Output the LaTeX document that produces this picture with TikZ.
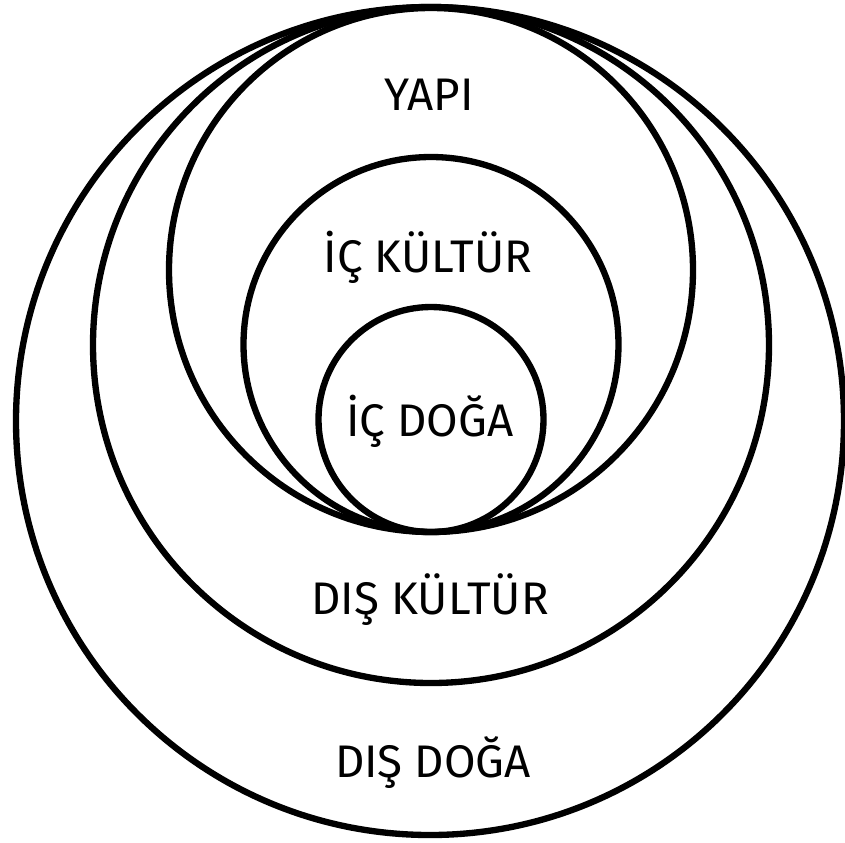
\documentclass[tikz,border=0pt]{standalone}
\usepackage{fontspec}
\newfontfamily\labelfont{Fira Sans}

\begin{document}
\begin{tikzpicture}[
  ring/.style={line width=1.8pt},
  lbl/.style={font=\labelfont\fontsize{13}{15}\selectfont}
]

\useasboundingbox (0,0) rectangle (8.45,-8.42);

% outer nature
\draw[ring] (4.30,-4.21) circle (4.14);
% outer culture
\draw[ring] (4.31,-3.45) circle (3.38);
% structure
\draw[ring] (4.31,-2.70) circle (2.62);
% inner culture
\draw[ring] (4.31,-3.445) circle (1.875);
% inner nature
\draw[ring] (4.31,-4.195) circle (1.125);

% labels
\node[lbl] (yapi) at (4.29,-0.95) {YAPI};
\node[lbl] (ickultur) at (4.28,-2.57) {İÇ KÜLTÜR};
\node[lbl] (icdoga) at (4.30,-4.21) {İÇ DOĞA};
\node[lbl] (diskultur) at (4.30,-6.00) {DIŞ KÜLTÜR};
\node[lbl] (disdoga) at (4.33,-7.63) {DIŞ DOĞA};

\end{tikzpicture}
\end{document}
